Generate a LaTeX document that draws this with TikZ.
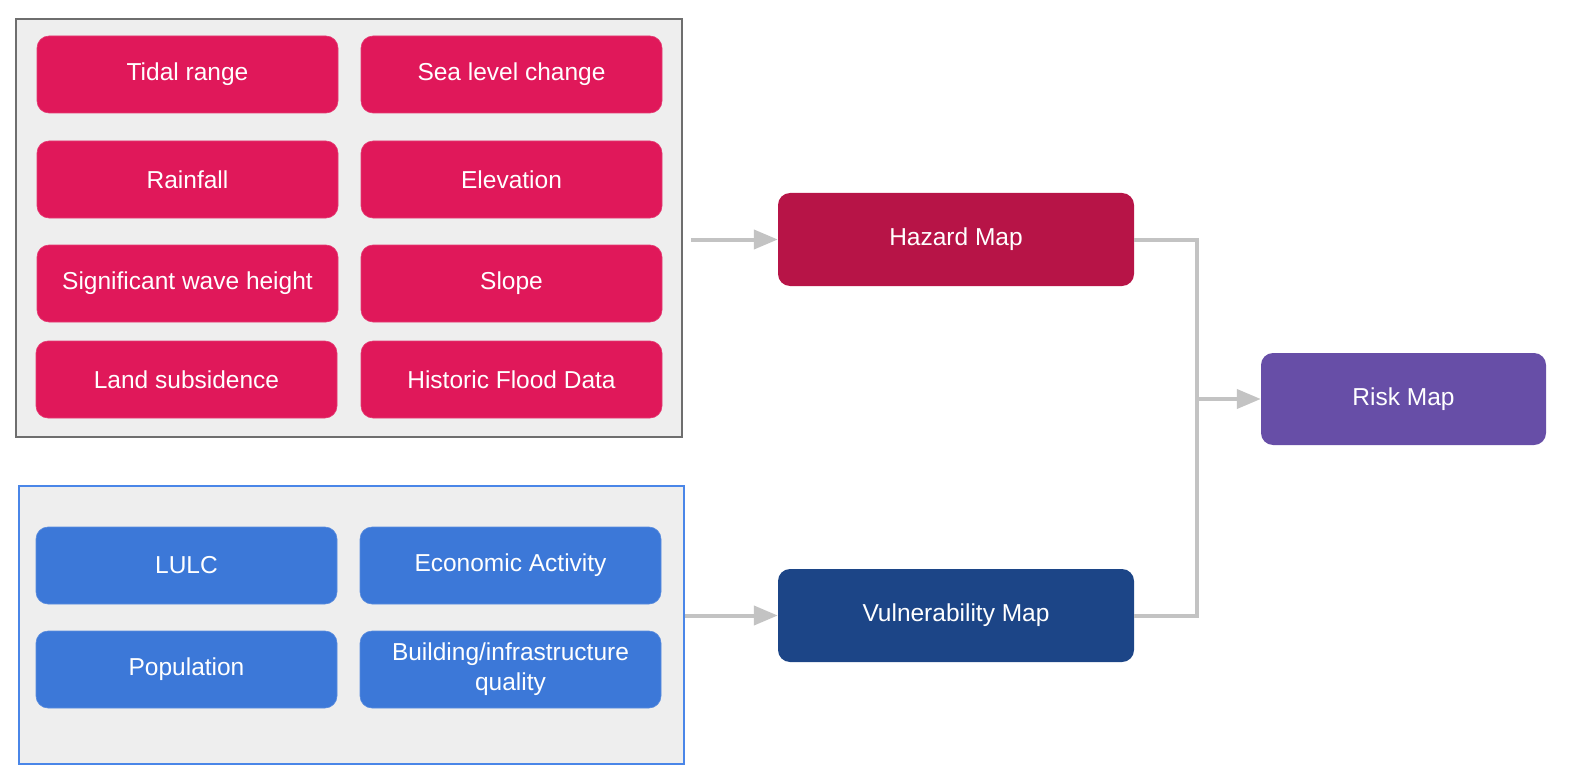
\documentclass[tikz,border=0pt]{standalone}
\usepackage{fontspec}
\setmainfont{Liberation Sans}
\usetikzlibrary{arrows.meta}
\definecolor{pinkbox}{HTML}{E0185A}
\definecolor{bluebox}{HTML}{3C78D8}
\definecolor{hazardc}{HTML}{B71447}
\definecolor{vulnc}{HTML}{1C4587}
\definecolor{riskc}{HTML}{674EA7}
\definecolor{panel}{HTML}{EEEEEE}
\definecolor{panelgray}{HTML}{6E6E6E}
\definecolor{panelblue}{HTML}{4A86E8}
\definecolor{conn}{HTML}{C3C3C3}
\tikzset{
  box/.style={rectangle, rounded corners=12pt, text=white, align=center,
    font=\fontsize{24.5}{30}\selectfont, inner sep=0pt},
  factor/.style={box, minimum width=301pt, minimum height=77pt},
  pinkf/.style={factor, fill=pinkbox, draw=pinkbox!85!white, line width=0.6pt},
  bluef/.style={factor, fill=bluebox, draw=bluebox!85!white, line width=0.6pt},
  mapbox/.style={box, minimum width=356pt, minimum height=93pt},
  panelbox/.style={rectangle, fill=panel, line width=1.5pt, inner sep=0pt},
  conn/.style={draw=conn, line width=4pt},
  arr/.style={conn, -{Triangle[length=24pt,width=19pt]}}
}
\begin{document}
\begin{tikzpicture}[x=1pt,y=-1pt]
\useasboundingbox (0,0) rectangle (1573,778);
% panels
\node[panelbox, draw=panelgray, minimum width=666pt, minimum height=418pt] (top) at (349,228) {};
\node[panelbox, draw=panelblue, minimum width=665pt, minimum height=278pt] (bot) at (351.5,625) {};
% hazard factors
\node[pinkf] (tidal) at (187.5,74.5) {\raisebox{-2pt}{Tidal range}};
\node[pinkf] (sea) at (511.5,74.5) {\raisebox{-2pt}{Sea level change}};
\node[pinkf] (rain) at (187.5,179.5) {\raisebox{-2pt}{Rainfall}};
\node[pinkf] (elev) at (511.5,179.5) {\raisebox{-2pt}{Elevation}};
\node[pinkf] (wave) at (187.5,283.5) {\raisebox{-2pt}{Significant wave height}};
\node[pinkf] (slope) at (511.5,283.5) {\raisebox{-2pt}{Slope}};
\node[pinkf] (subs) at (186.5,379.5) {\raisebox{-2pt}{Land subsidence}};
\node[pinkf] (hist) at (511.5,379.5) {\raisebox{-2pt}{Historic Flood Data}};
% vulnerability factors
\node[bluef] (lulc) at (186.5,565.5) {\raisebox{-2pt}{LULC}};
\node[bluef] (econ) at (510.5,565.5) {\raisebox{-2pt}{Economic Activity}};
\node[bluef] (pop) at (186.5,669.5) {\raisebox{-2pt}{Population}};
\node[bluef] (build) at (510.5,669.5) {Building/infrastructure\\quality};
% maps
\node[mapbox, fill=hazardc] (hazard) at (956,239.5) {\raisebox{-2pt}{Hazard Map}};
\node[mapbox, fill=vulnc] (vuln) at (956,615.5) {\raisebox{-2pt}{Vulnerability Map}};
\node[box, fill=riskc, minimum width=285pt, minimum height=92pt] (risk) at (1403.5,399) {\raisebox{-2pt}{Risk Map}};
% connectors
\draw[arr, shorten <=8pt] (top.east |- hazard.west) -- (hazard.west);
\draw[arr] (bot.east |- vuln.west) -- (vuln.west);
\coordinate (j) at (1197,399);
\draw[conn] (hazard.east) -| (j) |- (vuln.east);
\draw[arr] (j) -- (risk.west);
\end{tikzpicture}
\end{document}
